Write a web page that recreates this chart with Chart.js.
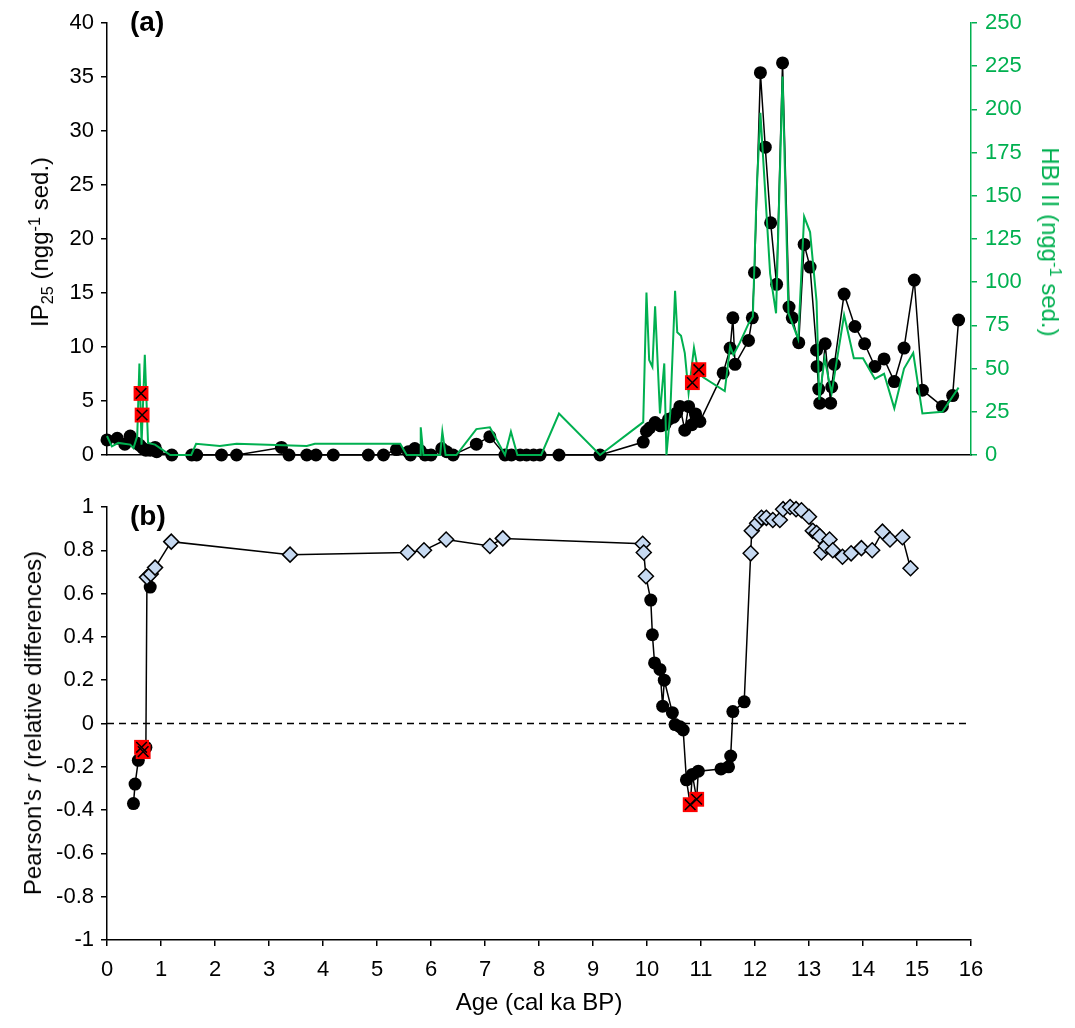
<!DOCTYPE html>
<html>
<head>
<meta charset="utf-8">
<script src="https://cdn.jsdelivr.net/npm/chart.js@4.4.0/dist/chart.umd.min.js"></script>
<style>
  body { margin: 0; background: #fff; }
  #wrap { position: relative; width: 1075px; height: 1028px; font-family: "Liberation Sans", Arial, sans-serif; color: #000; }
  #topChart { position: absolute; left: 0; top: 0; }
  #botChart { position: absolute; left: 0; top: 480px; }
  .lbl { position: absolute; font-size: 24px; white-space: nowrap; line-height: 1; }
  .rotL { transform: translate(-50%, -50%) rotate(-90deg); }
  .rotR { transform: translate(-50%, -50%) rotate(90deg); }
  .ctr { transform: translate(-50%, -50%); }
  .panel { font-weight: bold; font-size: 28px; }
  sub { font-size: 0.68em; vertical-align: -0.3em; line-height: 0; }
  sup { font-size: 0.68em; vertical-align: 0.5em; line-height: 0; }
</style>
</head>
<body>
<div id="wrap">
  <canvas id="topChart" width="1075" height="480"></canvas>
  <canvas id="botChart" width="1075" height="548"></canvas>
  <div class="lbl panel" style="left:130px; top:8px;">(a)</div>
  <div class="lbl panel" style="left:130px; top:502px;">(b)</div>
  <div class="lbl rotL" style="left:40px; top:242px;">IP<sub>25</sub> (ngg<sup>-1</sup> sed.)</div>
  <div class="lbl rotR" style="left:1050px; top:242px; color:#00b050;">HBI II (ngg<sup>-1</sup> sed.)</div>
  <div class="lbl rotL" style="left:33px; top:723px;">Pearson's <i>r</i> (relative differences)</div>
  <div class="lbl ctr" style="left:539px; top:1002px;">Age (cal ka BP)</div>
</div>
<script>
// (a) IP25 concentrations (black circles)
const ip25Age = [0.0, 0.19, 0.33, 0.43, 0.55, 0.61, 0.67, 0.72, 0.8, 0.89, 0.92, 1.2, 1.57, 1.66, 2.12, 2.4,
  3.23, 3.37, 3.7, 3.87, 4.19, 4.84, 5.12, 5.36, 5.58, 5.62, 5.7, 5.8, 5.89, 6.0, 6.2, 6.29, 6.41,
  6.84, 7.09, 7.37, 7.49, 7.65, 7.77, 7.9, 8.02, 8.37, 9.13,
  9.93, 9.99, 10.05, 10.15, 10.25, 10.33, 10.4, 10.49, 10.55, 10.61, 10.7, 10.77, 10.83, 10.9, 10.98,
  11.41, 11.54, 11.59, 11.63, 11.88, 11.95, 11.99, 12.1, 12.19, 12.29, 12.4, 12.51, 12.63, 12.69, 12.81,
  12.91, 13.02, 13.14, 13.15, 13.18, 13.2, 13.3, 13.4, 13.42, 13.47, 13.65, 13.85, 14.03, 14.22, 14.39,
  14.58, 14.76, 14.95, 15.1, 15.47, 15.66, 15.77];
const ip25Val = [1.4, 1.55, 1.0, 1.75, 1.1, 0.9, 0.6, 0.45, 0.45, 0.7, 0.3, 0, 0, 0, 0, 0,
  0.7, 0, 0, 0, 0, 0, 0, 0.5, 0.3, 0, 0.6, 0.4, 0, 0, 0.6, 0.3, 0,
  1.0, 1.7, 0, 0, 0, 0, 0, 0, 0, 0,
  1.2, 2.2, 2.5, 3.0, 2.7, 2.8, 3.3, 3.5, 3.9, 4.5, 2.3, 4.5, 2.8, 3.8, 3.1,
  7.6, 9.9, 12.7, 8.4, 10.6, 12.7, 16.9, 35.4, 28.5, 21.5, 15.8, 36.3, 13.7, 12.7, 10.4,
  19.5, 17.4, 9.7, 8.2, 6.1, 4.8, 10.3, 4.8, 6.3, 8.4, 14.9, 11.9, 10.3, 8.2, 8.9,
  6.8, 9.9, 16.2, 6.0, 4.5, 5.5, 12.5];

// (a) IP25 samples marked red
const ip25OutAge = [0.63, 0.65, 10.84, 10.96];
const ip25OutVal = [5.7, 3.7, 6.7, 7.9];

// (a) HBI II concentrations (green line, right axis)
const hbiAge = [0.0, 0.09, 0.21, 0.43, 0.49, 0.56, 0.6, 0.64, 0.7, 0.76, 0.89, 1.17, 1.56, 1.65, 2.09, 2.4,
  3.7, 3.85, 5.43, 5.55, 5.8, 5.81, 5.86, 6.17, 6.21, 6.27, 6.47, 6.84, 7.09, 7.37, 7.48, 7.6, 8.04,
  8.37, 9.13, 9.93, 9.99, 10.04, 10.1, 10.15, 10.24, 10.32, 10.36, 10.43, 10.52, 10.56, 10.63, 10.7,
  10.77, 10.87, 10.95, 11.04, 11.44, 11.54, 11.6, 11.72, 11.88, 11.96, 12.03, 12.1, 12.28, 12.39,
  12.51, 12.62, 12.8, 12.91, 13.02, 13.14, 13.19, 13.29, 13.37, 13.42, 13.65, 13.83, 14.0, 14.22,
  14.39, 14.58, 14.76, 14.93, 15.1, 15.47, 15.77];
const hbiVal = [11, 5, 7, 6, 4, 11, 53, 6, 58, 7, 6, 0, 0, 6.5, 5.2, 6.5,
  5.2, 6.5, 6.5, 0, 0, 16, 0, 0, 13.5, 0, 0, 15, 16, 0, 13.5, 0, 0,
  24, 0, 19, 94, 55, 51, 86, 24, 53, 0, 24, 95, 71, 69, 59,
  36, 62, 48, 45, 37, 63, 58, 65, 76, 80, 152, 198, 105, 82,
  219, 82, 67, 138, 129, 89, 32, 56, 43, 36, 81, 56, 56, 44,
  47, 27, 50, 59, 24, 25, 39];

// (b) Pearson's r, black circles
const rBlackAge = [0.49, 0.52, 0.58, 0.72, 0.8, 10.07, 10.1, 10.14, 10.24, 10.29, 10.32, 10.47, 10.52,
  10.61, 10.67, 10.73, 10.84, 10.95, 11.37, 11.51, 11.55, 11.59, 11.8];
const rBlackVal = [-0.37, -0.28, -0.17, -0.11, 0.63, 0.57, 0.41, 0.28, 0.25, 0.08, 0.2, 0.05, -0.005,
  -0.015, -0.03, -0.26, -0.235, -0.22, -0.21, -0.2, -0.15, 0.055, 0.1];

// (b) Pearson's r, blue diamonds
const rDiaAge = [0.74, 0.81, 0.89, 1.19, 3.39, 5.57, 5.87, 6.28, 7.09, 7.33, 9.92, 9.94, 9.98,
  11.92, 11.94, 12.04, 12.12, 12.21, 12.33, 12.46, 12.52, 12.65, 12.76, 12.86, 13.0, 13.07, 13.14,
  13.2, 13.23, 13.31, 13.38, 13.44, 13.62, 13.78, 13.97, 14.17, 14.36, 14.5, 14.73, 14.88];
const rDiaVal = [0.675, 0.69, 0.72, 0.84, 0.78, 0.79, 0.8, 0.85, 0.82, 0.855, 0.83, 0.79, 0.68,
  0.786, 0.89, 0.925, 0.95, 0.95, 0.94, 0.94, 0.99, 1.0, 0.99, 0.985, 0.955, 0.89, 0.88,
  0.865, 0.79, 0.82, 0.85, 0.8, 0.77, 0.786, 0.81, 0.8, 0.886, 0.85, 0.86, 0.717];

// (b) Pearson's r, red squares
const rRedAge = [0.64, 0.67, 10.8, 10.92];
const rRedVal = [-0.11, -0.13, -0.375, -0.35];

const green = '#00b050';
const diaFill = '#c6d9f1';

Chart.defaults.font.family = '"Liberation Sans", Arial, sans-serif';
Chart.defaults.font.size = 22;
Chart.defaults.color = '#000';

function pts(xs, ys) {
  return xs.map((x, i) => ({ x: x, y: ys[i] }));
}

function fixWidth(w) {
  return function(scale) { scale.width = w; };
}
function fixHeight(h) {
  return function(scale) { scale.height = h; };
}

function yAxis(opts) {
  return {
    type: 'linear',
    position: opts.position,
    min: opts.min,
    max: opts.max,
    afterFit: fixWidth(opts.width),
    ticks: {
      stepSize: opts.step,
      color: opts.color,
      padding: opts.padding,
      callback: v => parseFloat(v.toFixed(1)).toString()
    },
    grid: { drawOnChartArea: false, tickLength: 6, color: opts.color, lineWidth: 1.5 },
    border: { display: true, color: opts.color, width: 1.5 }
  };
}

// Top panel
new Chart(document.getElementById('topChart'), {
  type: 'scatter',
  data: {
    datasets: [
      {
        label: 'IP25 excluded (x)',
        data: pts(ip25OutAge, ip25OutVal),
        pointStyle: 'crossRot',
        pointRadius: 7.5,
        borderColor: '#000',
        pointBorderWidth: 1.5,
        clip: false,
        order: 0
      },
      {
        label: 'IP25 excluded',
        data: pts(ip25OutAge, ip25OutVal),
        pointStyle: 'rect',
        pointRadius: 10.5,
        backgroundColor: '#ff0000',
        borderWidth: 0,
        pointBorderWidth: 0,
        clip: false,
        order: 1
      },
      {
        label: 'HBI II',
        data: pts(hbiAge, hbiVal),
        yAxisID: 'yR',
        showLine: true,
        borderColor: green,
        borderWidth: 2,
        pointRadius: 0,
        clip: false,
        order: 2
      },
      {
        label: 'IP25',
        data: pts(ip25Age, ip25Val),
        showLine: true,
        borderColor: '#000',
        borderWidth: 1.5,
        pointRadius: 6.5,
        pointBackgroundColor: '#000',
        pointBorderWidth: 0,
        clip: false,
        order: 3
      }
    ]
  },
  options: {
    responsive: false,
    animation: false,
    layout: { padding: { top: 23, left: 0, right: 0, bottom: 0 } },
    plugins: { legend: { display: false }, tooltip: { enabled: false } },
    scales: {
      x: {
        type: 'linear',
        min: 0,
        max: 16,
        afterFit: fixHeight(25),
        ticks: { display: false, stepSize: 1 },
        grid: { drawOnChartArea: false, drawTicks: false, color: '#000' },
        border: { display: true, color: '#000', width: 1.5 }
      },
      y: yAxis({ position: 'left', min: 0, max: 40, step: 5, color: '#000', padding: 7, width: 107 }),
      yR: yAxis({ position: 'right', min: 0, max: 250, step: 25, color: green, padding: 8, width: 104 })
    }
  }
});

// Bottom panel: one connecting line through all samples in age order
const allR = pts(rBlackAge, rBlackVal).concat(pts(rDiaAge, rDiaVal), pts(rRedAge, rRedVal))
  .sort((a, b) => a.x - b.x);

new Chart(document.getElementById('botChart'), {
  type: 'scatter',
  data: {
    datasets: [
      {
        label: 'red x',
        data: pts(rRedAge, rRedVal),
        pointStyle: 'crossRot',
        pointRadius: 7.5,
        borderColor: '#000',
        pointBorderWidth: 1.5,
        clip: false,
        order: 0
      },
      {
        label: 'red',
        data: pts(rRedAge, rRedVal),
        pointStyle: 'rect',
        pointRadius: 10.5,
        backgroundColor: '#ff0000',
        pointBorderWidth: 0,
        clip: false,
        order: 1
      },
      {
        label: 'diamonds',
        data: pts(rDiaAge, rDiaVal),
        pointStyle: 'rectRot',
        pointRadius: 7.5,
        backgroundColor: diaFill,
        borderColor: '#000',
        pointBorderWidth: 1.5,
        clip: false,
        order: 2
      },
      {
        label: 'circles',
        data: pts(rBlackAge, rBlackVal),
        pointRadius: 6.5,
        backgroundColor: '#000',
        pointBorderWidth: 0,
        clip: false,
        order: 3
      },
      {
        label: 'line',
        data: allR,
        showLine: true,
        borderColor: '#000',
        borderWidth: 1.5,
        pointRadius: 0,
        clip: false,
        order: 4
      },
      {
        label: 'zero',
        data: [{ x: 0, y: 0 }, { x: 16, y: 0 }],
        showLine: true,
        borderColor: '#000',
        borderWidth: 1.5,
        borderDash: [7, 5],
        pointRadius: 0,
        order: 5
      }
    ]
  },
  options: {
    responsive: false,
    animation: false,
    layout: { padding: { top: 27, left: 0, right: 104, bottom: 0 } },
    plugins: { legend: { display: false }, tooltip: { enabled: false } },
    scales: {
      x: {
        type: 'linear',
        min: 0,
        max: 16,
        afterFit: fixHeight(88),
        ticks: { stepSize: 1, padding: 11 },
        grid: { drawOnChartArea: false, tickLength: 6, color: '#000', lineWidth: 1.5 },
        border: { display: true, color: '#000', width: 1.5 }
      },
      y: yAxis({ position: 'left', min: -1, max: 1, step: 0.2, color: '#000', padding: 7, width: 107 })
    }
  }
});
</script>
</body>
</html>
